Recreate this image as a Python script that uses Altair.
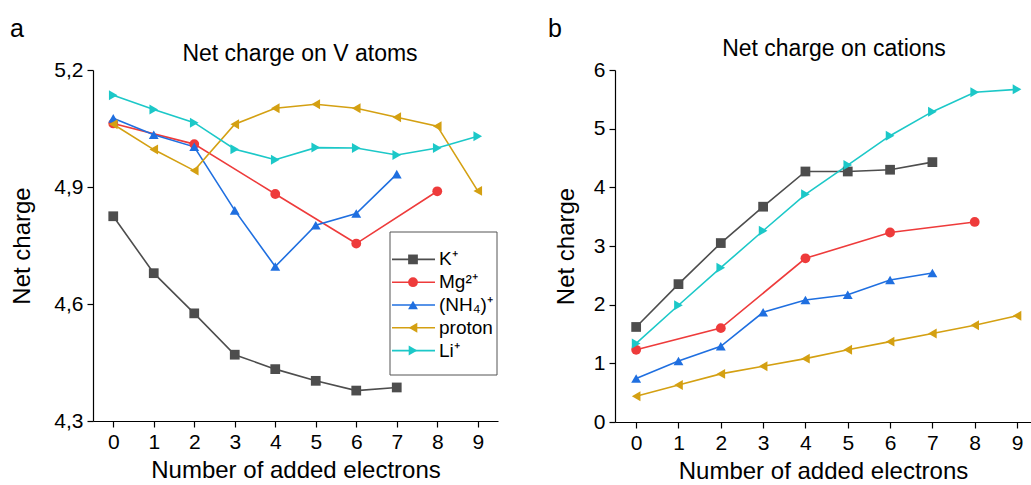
import altair as alt
import pandas as pd

FONT = "Liberation Sans"

series = ["K⁺", "Mg²⁺", "(NH₄)⁺", "proton", "Li⁺"]
colors = ["#4D4D4D", "#EE3B3B", "#1F6FE0", "#D4A012", "#1CC8C8"]
shapes = ["square", "circle", "triangle-up", "triangle-left", "triangle-right"]
sizes = [95, 100, 155, 155, 155]

# ---- panel a: net charge on V atoms ----
a_k_x = [0, 1, 2, 3, 4, 5, 6, 7]
a_k_y = [4.825, 4.679, 4.576, 4.470, 4.433, 4.403, 4.378, 4.386]
a_mg_x = [0, 2, 4, 6, 8]
a_mg_y = [5.063, 5.010, 4.882, 4.755, 4.889]
a_nh4_x = [0, 1, 2, 3, 4, 5, 6, 7]
a_nh4_y = [5.076, 5.034, 5.003, 4.840, 4.696, 4.802, 4.832, 4.933]
a_h_x = [0, 1, 2, 3, 4, 5, 6, 7, 8, 9]
a_h_y = [5.061, 4.996, 4.942, 5.061, 5.102, 5.112, 5.102, 5.079, 5.056, 4.890]
a_li_x = [0, 1, 2, 3, 4, 5, 6, 7, 8, 9]
a_li_y = [5.135, 5.099, 5.065, 4.997, 4.970, 5.001, 5.000, 4.982, 5.000, 5.030]

# ---- panel b: net charge on cations ----
b_k_x = [0, 1, 2, 3, 4, 5, 6, 7]
b_k_y = [1.62, 2.35, 3.05, 3.67, 4.27, 4.27, 4.30, 4.43]
b_mg_x = [0, 2, 4, 6, 8]
b_mg_y = [1.23, 1.60, 2.79, 3.23, 3.41]
b_nh4_x = [0, 1, 2, 3, 4, 5, 6, 7]
b_nh4_y = [0.74, 1.04, 1.29, 1.87, 2.08, 2.17, 2.42, 2.54]
b_h_x = [0, 1, 2, 3, 4, 5, 6, 7, 8, 9]
b_h_y = [0.44, 0.63, 0.82, 0.95, 1.08, 1.23, 1.37, 1.51, 1.65, 1.81]
b_li_x = [0, 1, 2, 3, 4, 5, 6, 7, 8, 9]
b_li_y = [1.34, 1.99, 2.63, 3.26, 3.88, 4.38, 4.88, 5.29, 5.62, 5.67]

a_ticks = [4.3, 4.6, 4.9, 5.2]
b_ticks = [0, 1, 2, 3, 4, 5, 6]
x_ticks = [0, 1, 2, 3, 4, 5, 6, 7, 8, 9]


def build_df(pairs):
    rows = []
    for name, xs, ys in pairs:
        for xv, yv in zip(xs, ys):
            rows.append({"x": xv, "y": yv, "series": name})
    return pd.DataFrame(rows)


df_a = build_df([
    (series[0], a_k_x, a_k_y), (series[1], a_mg_x, a_mg_y),
    (series[2], a_nh4_x, a_nh4_y), (series[3], a_h_x, a_h_y),
    (series[4], a_li_x, a_li_y),
])
df_b = build_df([
    (series[0], b_k_x, b_k_y), (series[1], b_mg_x, b_mg_y),
    (series[2], b_nh4_x, b_nh4_y), (series[3], b_h_x, b_h_y),
    (series[4], b_li_x, b_li_y),
])

color_enc = alt.Color("series:N", scale=alt.Scale(domain=series, range=colors), legend=None)
shape_enc = alt.Shape("series:N", scale=alt.Scale(domain=series, range=shapes), legend=None)
size_enc = alt.Size("series:N", scale=alt.Scale(domain=series, range=sizes), legend=None)

comma_expr = "replace(format(datum.value, '.1f'), '.', ',')"


def panel(df, xdom, ydom, yticks, ylabel_expr, title, letter, width, title_x, title_y,
          letter_x, ytitle_pad):
    x_enc = alt.X("x:Q", scale=alt.Scale(domain=xdom, nice=False, zero=False),
                  axis=alt.Axis(values=x_ticks, title="Number of added electrons", format="d"))
    if ylabel_expr:
        y_axis = alt.Axis(values=yticks, title="Net charge", labelExpr=ylabel_expr,
                          titlePadding=ytitle_pad)
    else:
        y_axis = alt.Axis(values=yticks, title="Net charge", titlePadding=ytitle_pad)
    y_enc = alt.Y("y:Q", scale=alt.Scale(domain=ydom, nice=False, zero=False), axis=y_axis)
    base = alt.Chart(df)
    lines = base.mark_line(strokeWidth=1.6).encode(
        x=x_enc, y=y_enc, color=color_enc, order=alt.Order("x:Q"))
    points = base.mark_point(filled=True, opacity=1).encode(
        x=x_enc, y=y_enc, color=color_enc, shape=shape_enc, size=size_enc)
    texts = alt.Chart(alt.Data(values=[{"t": letter}])).mark_text(
        fontSize=25, font=FONT, align="left", baseline="alphabetic", color="black"
    ).encode(x=alt.value(letter_x), y=alt.value(-33), text="t:N")
    title_mark = alt.Chart(alt.Data(values=[{"t": title}])).mark_text(
        fontSize=23, font=FONT, align="center", baseline="alphabetic", color="black"
    ).encode(x=alt.value(title_x), y=alt.value(title_y), text="t:N")
    return alt.layer(lines, points), alt.layer(texts, title_mark)


data_a, text_a = panel(df_a, [-0.5, 9.5], [4.3, 5.2], a_ticks, comma_expr,
                       "Net charge on V atoms", "a", 405, 207, -9, -83, 19)
data_b, text_b = panel(df_b, [-0.5, 9.33], [0, 6], b_ticks, None,
                       "Net charge on cations", "b", 416, 219, -14, -67, 15)

# custom legend (line + marker) inside panel a
leg_df = pd.DataFrame({"series": series})
leg_y = alt.Y("series:N", scale=alt.Scale(domain=series, range=[178, 292], padding=0), axis=None)
leg_box = alt.Chart(alt.Data(values=[{}])).mark_rect(
    fill="white", stroke="#555555", strokeWidth=1
).encode(x=alt.value(297), x2=alt.value(404), y=alt.value(162), y2=alt.value(305))
leg_rules = alt.Chart(leg_df).mark_rule(strokeWidth=1.6).encode(
    x=alt.value(299), x2=alt.value(342), y=leg_y, color=color_enc)
leg_pts = alt.Chart(leg_df).mark_point(filled=True, opacity=1).encode(
    x=alt.value(320), y=leg_y, color=color_enc, shape=shape_enc, size=size_enc)
leg_txt = alt.Chart(leg_df).mark_text(
    align="left", baseline="middle", fontSize=19, font=FONT, color="black"
).encode(x=alt.value(346), y=leg_y, text="series:N")
legend = alt.layer(leg_rules, leg_pts, leg_txt)

left = alt.layer(data_a, leg_box, legend, text_a).resolve_scale(y="independent").properties(
    width=405, height=351)
right = alt.layer(data_b, text_b).properties(width=416, height=352)

chart = alt.hconcat(left, right, spacing=50).properties(
    padding={"left": 10, "top": 17, "right": 0, "bottom": 0}
).configure_view(stroke=None).configure_axis(
    grid=False, domainColor="black", tickColor="black", labelColor="black", titleColor="black",
    labelFont=FONT, titleFont=FONT, labelFontSize=21, titleFontSize=24, titleFontWeight="normal",
    tickSize=6, domainWidth=1.2, tickWidth=1.2, labelPadding=4,
).configure_axisX(titlePadding=6)

chart.save("out.html", embed_options={"renderer": "svg", "actions": False})
